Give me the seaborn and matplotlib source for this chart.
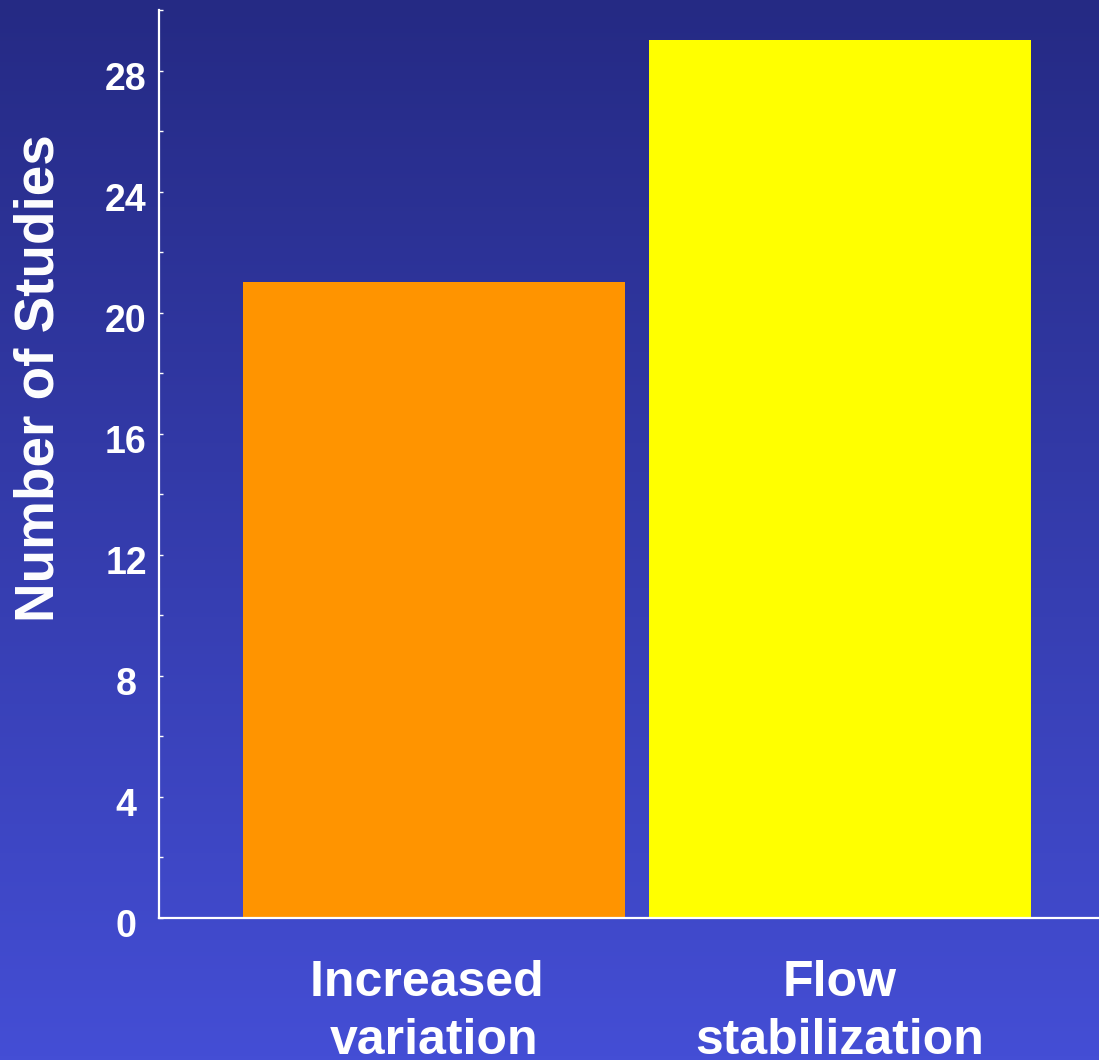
import numpy as np
import pandas as pd
import matplotlib
matplotlib.use("Agg")
import matplotlib.pyplot as plt
from matplotlib.colors import LinearSegmentedColormap
from matplotlib.ticker import MultipleLocator
from matplotlib.transforms import ScaledTranslation
import seaborn as sns

# Study counts by reported flow response
categories = ["Increased \nvariation", "Flow\nstabilization"]
study_counts = [21, 29]
bar_colors = ["#FF9400", "#FFFF00"]
y_major_ticks = [0, 4, 8, 12, 16, 20, 24, 28]

sns.set_theme(style="ticks")
plt.rcParams["font.family"] = ["Liberation Sans", "DejaVu Sans"]
plt.rcParams["font.weight"] = "bold"

df = pd.DataFrame({"category": categories, "count": study_counts})

fig = plt.figure(figsize=(10.99, 10.60), dpi=100)

# Vertical blue gradient backdrop
bg = fig.add_axes([0, 0, 1, 1], zorder=-10)
grad = np.linspace(0, 1, 256).reshape(-1, 1)
cmap = LinearSegmentedColormap.from_list("slide", ["#252A84", "#444ED5"])
bg.imshow(grad, aspect="auto", cmap=cmap, extent=[0, 1, 0, 1], origin="upper")
bg.set_axis_off()

left, right = 159 / 1099, 1.0
bottom, top = (1060 - 918) / 1060, (1060 - 10) / 1060
ax = fig.add_axes([left, bottom, right - left, top - bottom])
ax.patch.set_alpha(0)

sns.barplot(data=df, x="category", y="count", hue="category",
            palette=bar_colors, width=0.94, saturation=1, legend=False, ax=ax,
            edgecolor="none")

ax.set_xlim(-0.677, 1.638)
ax.set_ylim(0, 30)
ax.set_yticks(y_major_ticks)
ax.yaxis.set_minor_locator(MultipleLocator(2))

for side in ["top", "right"]:
    ax.spines[side].set_visible(False)
for side in ["left", "bottom"]:
    ax.spines[side].set_color("white")
    ax.spines[side].set_linewidth(1.6)

ax.tick_params(axis="y", which="both", direction="in", length=3, width=1,
               color="white", labelcolor="white", labelsize=27, pad=23.8)
ax.tick_params(axis="x", length=0, labelcolor="white", labelsize=36, pad=30)

shift_down = ScaledTranslation(0, -0.05, fig.dpi_scale_trans)
for lab in ax.get_yticklabels():
    lab.set_fontweight("bold")
    lab.set_horizontalalignment("center")
    lab.set_transform(lab.get_transform() + shift_down)
for lab in ax.get_xticklabels():
    lab.set_fontweight("bold")
    lab.set_linespacing(1.35)

ax.set_xlabel("")
ax.set_ylabel("Number of Studies", color="white", fontsize=39.5,
              fontweight="bold", va="center")
ax.yaxis.set_label_coords((39 - 159) / 940, (918 - 378) / 908)

fig.savefig("out.png", dpi=100)
